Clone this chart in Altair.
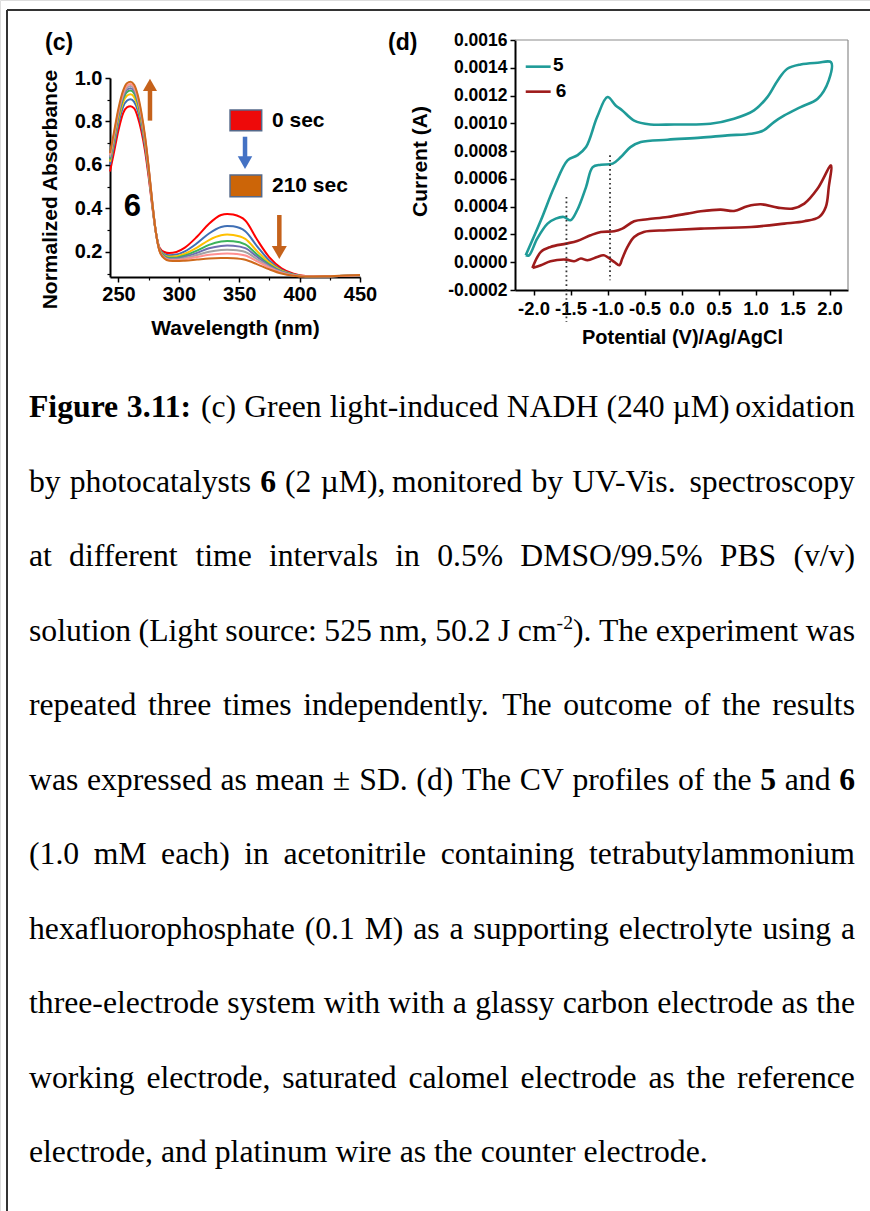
import re
import altair as alt
import pandas as pd

W, H = 870, 1211
SANS = "Liberation Sans"
SERIF = "Liberation Serif"

# ---------------- (c) UV-Vis spectra of NADH + photocatalyst 6 ----------------
wavelength = [243, 246, 250, 254, 257, 260, 263, 266, 269, 272, 275, 278, 281, 284,
              288, 292, 298, 305, 315, 325, 335, 340, 345, 355, 365, 375, 385, 395, 405, 420, 450]
spec_times = ["0", "30", "60", "90", "120", "150", "180", "210"]
abs_0 = [0.570, 0.650, 0.760, 0.840, 0.865, 0.870, 0.860, 0.820, 0.755, 0.665, 0.545, 0.410, 0.290, 0.220,
         0.200, 0.195, 0.200, 0.220, 0.270, 0.330, 0.370, 0.375, 0.372, 0.345, 0.255, 0.175, 0.125, 0.100, 0.090, 0.088, 0.093]
abs_30 = [0.600, 0.680, 0.790, 0.870, 0.895, 0.902, 0.890, 0.850, 0.780, 0.685, 0.560, 0.415, 0.290, 0.215,
          0.190, 0.185, 0.188, 0.203, 0.240, 0.285, 0.315, 0.320, 0.318, 0.295, 0.225, 0.160, 0.118, 0.097, 0.089, 0.088, 0.093]
abs_60 = [0.615, 0.700, 0.810, 0.890, 0.918, 0.925, 0.912, 0.870, 0.798, 0.700, 0.570, 0.420, 0.290, 0.212,
          0.185, 0.178, 0.180, 0.192, 0.220, 0.255, 0.277, 0.280, 0.278, 0.260, 0.203, 0.150, 0.114, 0.096, 0.089, 0.088, 0.093]
abs_90 = [0.625, 0.710, 0.825, 0.905, 0.935, 0.942, 0.929, 0.885, 0.810, 0.710, 0.577, 0.423, 0.290, 0.210,
          0.182, 0.173, 0.174, 0.184, 0.206, 0.233, 0.248, 0.250, 0.249, 0.235, 0.187, 0.142, 0.111, 0.095, 0.088, 0.088, 0.093]
abs_120 = [0.632, 0.718, 0.833, 0.915, 0.946, 0.953, 0.940, 0.895, 0.818, 0.716, 0.581, 0.425, 0.290, 0.208,
           0.178, 0.169, 0.170, 0.178, 0.196, 0.217, 0.228, 0.230, 0.229, 0.218, 0.177, 0.137, 0.109, 0.094, 0.088, 0.088, 0.093]
abs_150 = [0.638, 0.725, 0.841, 0.924, 0.955, 0.963, 0.950, 0.904, 0.826, 0.722, 0.585, 0.427, 0.290, 0.207,
           0.175, 0.166, 0.166, 0.172, 0.186, 0.201, 0.209, 0.210, 0.209, 0.200, 0.166, 0.132, 0.107, 0.093, 0.088, 0.088, 0.093]
abs_180 = [0.645, 0.732, 0.849, 0.933, 0.964, 0.972, 0.958, 0.912, 0.833, 0.727, 0.588, 0.428, 0.290, 0.205,
           0.172, 0.163, 0.162, 0.167, 0.177, 0.187, 0.192, 0.193, 0.192, 0.184, 0.157, 0.127, 0.104, 0.092, 0.088, 0.088, 0.093]
abs_210 = [0.655, 0.742, 0.860, 0.944, 0.976, 0.983, 0.969, 0.922, 0.842, 0.734, 0.592, 0.430, 0.290, 0.204,
           0.170, 0.160, 0.158, 0.160, 0.165, 0.170, 0.172, 0.172, 0.171, 0.164, 0.143, 0.120, 0.101, 0.091, 0.087, 0.088, 0.094]
spec_series = [abs_0, abs_30, abs_60, abs_90, abs_120, abs_150, abs_180, abs_210]
spec_colors = ["#ff0000", "#3f6fb5", "#ffc000", "#3cb35a", "#6e6eb0", "#a3a3a3", "#ff9090", "#cf6a1c"]

# ---------------- (d) cyclic voltammograms ----------------
cv5_potential = [-2.105, -1.90, -1.72, -1.54, -1.41, -1.29, -1.14, -1.00, -0.89, -0.80, -0.64, -0.42, -0.10,
                 0.39, 0.71, 0.98, 1.16, 1.30, 1.43, 1.61, 1.84, 2.02, 1.99, 1.84, 1.61, 1.39, 1.25, 1.11,
                 0.94, 0.62, 0.26, -0.19, -0.55, -0.69, -0.82, -0.93, -1.09, -1.20, -1.29, -1.41, -1.50,
                 -1.59, -1.70, -1.81, -1.95, -2.06, -2.105]
cv5_current = [0.00005, 0.000302, 0.000541, 0.000733, 0.000769, 0.000829, 0.001045, 0.001189, 0.001129,
               0.001093, 0.00102, 0.000992, 0.000992, 0.000997, 0.001033, 0.001093, 0.001189, 0.001309,
               0.001393, 0.001424, 0.001436, 0.00144, 0.001309, 0.001177, 0.001117, 0.001057, 0.001009,
               0.000949, 0.000925, 0.000913, 0.000897, 0.000882, 0.000865, 0.000829, 0.000757, 0.00071,
               0.000702, 0.000685, 0.000541, 0.000374, 0.000302, 0.000326, 0.000314, 0.000278, 0.00017,
               0.00005, 0.00005]
cv6_potential = [-2.015, -1.90, -1.77, -1.56, -1.41, -1.23, -1.09, -0.91, -0.80, -0.64, -0.46, -0.19, 0.08,
                 0.26, 0.53, 0.71, 0.89, 1.07, 1.30, 1.50, 1.66, 1.84, 2.02, 1.99, 1.95, 1.86, 1.66, 1.39,
                 0.94, 0.26, -0.19, -0.51, -0.64, -0.73, -0.80, -0.84, -0.91, -1.05, -1.14, -1.27, -1.36,
                 -1.45, -1.56, -1.77, -1.90, -2.015]
cv6_current = [-0.000041, 0.000074, 0.00011, 0.000134, 0.000153, 0.000194, 0.000218, 0.000223, 0.000242,
               0.000295, 0.000309, 0.000326, 0.00035, 0.000367, 0.000379, 0.000369, 0.000403, 0.000417,
               0.000393, 0.000386, 0.000422, 0.00053, 0.000697, 0.000541, 0.000398, 0.000326, 0.000295,
               0.000278, 0.000254, 0.000242, 0.00023, 0.000218, 0.000182, 0.00011, 0.000027, -0.000022,
               0.000002, 0.00005, 0.000038, 0.000014, 0.000027, 0.000007, 0.000019, 0.000007, -0.000022,
               -0.000041]
cv_labels = ["5", "6"]
cv_colors = ["#1f9b98", "#9e1b1b"]
marker_potentials = [-1.555, -0.966]
marker_top = [0.00047, 0.00077]
marker_bottom = [-0.00043, -0.00013]

# ---------------- caption ----------------
caption_lines = [
    "**Figure** **3.11:** (c) Green light-induced NADH (240 µM) oxidation",
    "by photocatalysts **6** (2 µM), monitored by UV-Vis. spectroscopy",
    "at different time intervals in 0.5% DMSO/99.5% PBS (v/v)",
    "solution (Light source: 525 nm, 50.2 J cm^-2^). The experiment was",
    "repeated three times independently. The outcome of the results",
    "was expressed as mean ± SD. (d) The CV profiles of the **5** and **6**",
    "(1.0 mM each) in acetonitrile containing tetrabutylammonium",
    "hexafluorophosphate (0.1 M) as a supporting electrolyte using a",
    "three-electrode system with with a glassy carbon electrode as the",
    "working electrode, saturated calomel electrode as the reference",
    "electrode, and platinum wire as the counter electrode.",
]

# Times-compatible advance widths (1/1000 em) used to justify caption lines
TIMES_REG = {" ": 250, "!": 333, "%": 833, "(": 333, ")": 333, ",": 250, "-": 333, ".": 250, "/": 278,
             ":": 278, ";": 278, "±": 564, "µ": 500,
             "A": 722, "B": 667, "C": 667, "D": 722, "E": 611, "F": 556, "G": 722, "H": 722, "I": 333,
             "J": 389, "K": 722, "L": 611, "M": 889, "N": 722, "O": 722, "P": 556, "Q": 722, "R": 667,
             "S": 556, "T": 611, "U": 722, "V": 722, "W": 944, "X": 722, "Y": 722, "Z": 611,
             "a": 444, "b": 500, "c": 444, "d": 500, "e": 444, "f": 333, "g": 500, "h": 500, "i": 278,
             "j": 278, "k": 500, "l": 278, "m": 778, "n": 500, "o": 500, "p": 500, "q": 500, "r": 333,
             "s": 389, "t": 278, "u": 500, "v": 500, "w": 722, "x": 500, "y": 500, "z": 444}
for d in "0123456789":
    TIMES_REG[d] = 500
TIMES_BOLD = {"F": 611, "i": 278, "g": 500, "u": 556, "r": 444, "e": 444, ".": 250, ":": 333, " ": 250}
for d in "0123456789":
    TIMES_BOLD[d] = 500

FS = 31.7          # caption font size
SUP = 0.62         # superscript scale
LEFT, RIGHT = 29, 855
BASE0, LEAD = 417, 74.5


def seg_width(text, style):
    if style == "bold":
        return sum(TIMES_BOLD.get(ch, TIMES_REG.get(ch, 500)) for ch in text) / 1000 * FS
    size = FS * SUP if style == "sup" else FS
    return sum(TIMES_REG.get(ch, 500) for ch in text) / 1000 * size


def parse_word(word):
    segs = []
    for tok in re.split(r"(\*\*[^*]+\*\*|\^[^^]+\^)", word):
        if not tok:
            continue
        if tok.startswith("**"):
            segs.append((tok[2:-2], "bold"))
        elif tok.startswith("^"):
            segs.append((tok[1:-1], "sup"))
        else:
            segs.append((tok, "reg"))
    return segs


caption_rows = []
for k, line in enumerate(caption_lines):
    words = [parse_word(w) for w in line.split(" ")]
    widths = [sum(seg_width(t, s) for t, s in w) for w in words]
    if k == len(caption_lines) - 1:
        gap = 0.25 * FS
    else:
        gap = (RIGHT - LEFT - sum(widths)) / (len(words) - 1)
    x = LEFT
    base = BASE0 + k * LEAD
    for w, wd in zip(words, widths):
        xx = x
        for t, s in w:
            caption_rows.append({"x": xx, "y": base - (0.36 * FS if s == "sup" else 0), "t": t, "s": s})
            xx += seg_width(t, s)
        x += wd + gap
caption_df = pd.DataFrame(caption_rows)

# ---------------- tables ----------------
spec_keys = [f"{int(t):03d}" for t in spec_times]
spec_df = pd.DataFrame([
    {"wl": wl, "a": a, "key": key}
    for key, series in zip(spec_keys, spec_series)
    for wl, a in zip(wavelength, series)
])
cv_df = pd.DataFrame(
    [{"v": v, "i": c, "n": n, "s": "5"} for n, (v, c) in enumerate(zip(cv5_potential, cv5_current))]
    + [{"v": v, "i": c, "n": n, "s": "6"} for n, (v, c) in enumerate(zip(cv6_potential, cv6_current))]
)
marker_df = pd.DataFrame({"v": marker_potentials, "top": marker_top, "bottom": marker_bottom})

# ---------------- scales ----------------
def lin(domain, rng):
    return alt.Scale(domain=domain, range=rng, nice=False, zero=False)

C_X = [243, 450], [110, 360]
C_Y = [0.085, 1.0], [277, 78]
D_X = [-2.25, 2.25], [515, 848]
D_Y = [-0.0002, 0.0016], [290, 40]
P_X = [0, W], [0, W]
P_Y = [0, H], [0, H]


def axis(**kw):
    base = dict(grid=False, domainColor="black", domainWidth=2, tickColor="black", tickWidth=1.5,
                tickSize=5, labelFont=SANS, labelFontWeight="bold", labelColor="black",
                labelFlush=False, labelOverlap=False, labelBound=False, titleFont=SANS,
                titleFontWeight="bold", titleColor="black", titleAlign="center",
                titleBaseline="middle")
    base.update(kw)
    return alt.Axis(**base)


def minor_axis(**kw):
    base = dict(grid=False, labels=False, domain=False, tickColor="black", tickWidth=1.2,
                tickSize=3, title="")
    base.update(kw)
    return alt.Axis(**base)


def xq(field, sc, ax=None):
    if ax is None:
        return alt.X(field, type="quantitative", scale=lin(*sc), axis=None)
    return alt.X(field, type="quantitative", scale=lin(*sc), axis=ax)


def yq(field, sc, ax=None):
    if ax is None:
        return alt.Y(field, type="quantitative", scale=lin(*sc), axis=None)
    return alt.Y(field, type="quantitative", scale=lin(*sc), axis=ax)


layers = []

# page frame and panel letters
frame_df = pd.DataFrame({"x": [7, 7], "x2": [W, 7], "y": [10, 10], "y2": [10, H]})
layers.append(alt.Chart(frame_df).mark_rule(color="#333333", strokeWidth=2).encode(
    x=xq("x", P_X), x2="x2:Q", y=yq("y", P_Y), y2="y2:Q"))
letters_df = pd.DataFrame({"x": [45, 388], "y": [43, 43], "t": ["(c)", "(d)"]})
layers.append(alt.Chart(letters_df).mark_text(font=SANS, fontWeight="bold", fontSize=23, align="left",
                                               baseline="middle", color="black").encode(
    x=xq("x", P_X), y=yq("y", P_Y), text="t:N"))

# caption text
for style, extra in [("reg", {}), ("bold", {"fontWeight": "bold"}), ("sup", {"fontSize": FS * SUP})]:
    props = dict(font=SERIF, fontSize=FS, align="left", baseline="alphabetic", color="black")
    props.update(extra)
    layers.append(alt.Chart(caption_df).transform_filter(alt.datum.s == style).mark_text(**props).encode(
        x=xq("x", P_X), y=yq("y", P_Y), text="t:N"))

# ---- panel (c) ----
layers.append(alt.Chart(spec_df).mark_line(strokeWidth=2, interpolate="monotone").encode(
    x=xq("wl", C_X, axis(orient="bottom", offset=277 - H, values=[250, 300, 350, 400, 450], format="d",
                         labelFontSize=20, labelPadding=2, title="Wavelength (nm)", titleFontSize=21,
                         titleX=235, titleY=51)),
    y=yq("a", C_Y, axis(orient="left", offset=-110, values=[0.2, 0.4, 0.6, 0.8, 1.0], format=".1f",
                        labelFontSize=20, labelPadding=3, title="Normalized Absorbance",
                        titleFontSize=21, titleAngle=270, titleX=-60, titleY=189)),
    color=alt.Color("key:N", scale=alt.Scale(domain=spec_keys, range=spec_colors), legend=None),
))

legend_box_df = pd.DataFrame({"x": [342.4, 342.4], "x2": [368.6, 368.6], "y": [0.853, 0.554],
                              "y2": [0.758, 0.454], "fill": ["#ee0a0a", "#cc6508"]})
layers.append(alt.Chart(legend_box_df).mark_rect(stroke="#55698a", strokeWidth=1.5).encode(
    x=xq("x", C_X, minor_axis(orient="bottom", offset=277 - H, values=[275, 325, 375, 425])),
    x2="x2:Q",
    y=yq("y", C_Y, minor_axis(orient="left", offset=-110, values=[0.1, 0.3, 0.5, 0.7, 0.9])),
    y2="y2:Q",
    color=alt.Color("fill:N", scale=None),
))

arrow_shaft_df = pd.DataFrame({"x": [276.1, 383.2, 354.8], "y": [0.804, 0.370, 0.730],
                               "y2": [0.950, 0.215, 0.637], "col": ["#c5621b", "#c5621b", "#4472c4"]})
layers.append(alt.Chart(arrow_shaft_df).mark_rule(strokeWidth=4.5).encode(
    x=xq("x", C_X), y=yq("y", C_Y), y2="y2:Q", color=alt.Color("col:N", scale=None)))
arrow_head_df = pd.DataFrame({"x": [276.1, 383.2, 354.8], "y": [0.968, 0.198, 0.611],
                              "shape": ["triangle-up", "triangle-down", "triangle-down"],
                              "col": ["#c5621b", "#c5621b", "#4472c4"], "sz": [200, 225, 210]})
layers.append(alt.Chart(arrow_head_df).mark_point(filled=True, opacity=1, strokeWidth=0).encode(
    x=xq("x", C_X), y=yq("y", C_Y), shape=alt.Shape("shape:N", scale=None),
    color=alt.Color("col:N", scale=None), size=alt.Size("sz:Q", scale=None)))

c_text_df = pd.DataFrame({"x": [377.1, 377.1, 254.3], "y": [0.802, 0.503, 0.405],
                          "t": ["0 sec", "210 sec", "6"], "fs": [21, 21, 31]})
layers.append(alt.Chart(c_text_df).mark_text(font=SANS, fontWeight="bold", align="left",
                                             baseline="middle", color="black").encode(
    x=xq("x", C_X), y=yq("y", C_Y), text="t:N", size=alt.Size("fs:Q", scale=None)))

# ---- panel (d) ----
d_yticks = [-0.0002, 0.0, 0.0002, 0.0004, 0.0006, 0.0008, 0.0010, 0.0012, 0.0014, 0.0016]
d_xticks = [-2.0, -1.5, -1.0, -0.5, 0.0, 0.5, 1.0, 1.5, 2.0]
layers.append(alt.Chart(cv_df).mark_line(strokeWidth=2.6, interpolate="catmull-rom",
                                         strokeJoin="round").encode(
    x=xq("v", D_X, axis(orient="bottom", offset=290 - H, values=d_xticks,
                        labelExpr="replace(format(datum.value, '.1f'), '\u2212', '-')",
                        labelFontSize=18.5, labelPadding=4, title="Potential (V)/Ag/AgCl",
                        titleFontSize=20, titleX=682, titleY=47)),
    y=yq("i", D_Y, axis(orient="left", offset=-515, values=d_yticks,
                        labelExpr="replace(format(datum.value, '.4f'), '\u2212', '-')",
                        labelFontSize=17.5, labelPadding=3, title="Current (A)", titleFontSize=21,
                        titleAngle=270, titleX=-95, titleY=161)),
    color=alt.Color("s:N", scale=alt.Scale(domain=cv_labels, range=cv_colors), legend=None),
    order=alt.Order("n:Q"),
    detail="s:N",
))

d_frame_df = pd.DataFrame({"x": [-2.25, 2.25], "x2": [2.25, 2.25], "y": [0.0016, -0.0002], "y2": [0.0016, 0.0016]})
layers.append(alt.Chart(d_frame_df).mark_rule(color="#8c8c8c", strokeWidth=1.2).encode(
    x=xq("x", D_X), x2="x2:Q", y=yq("y", D_Y), y2="y2:Q"))

layers.append(alt.Chart(marker_df).mark_rule(color="#333333", strokeWidth=1.8, strokeDash=[1.6, 3]).encode(
    x=xq("v", D_X), y=yq("top", D_Y), y2="bottom:Q"))

d_key_df = pd.DataFrame({"x": [-2.105, -2.105], "x2": [-1.768, -1.768], "y": [0.001408, 0.001228],
                         "s": cv_labels})
layers.append(alt.Chart(d_key_df).mark_rule(strokeWidth=2.6).encode(
    x=xq("x", D_X), x2="x2:Q", y=yq("y", D_Y),
    color=alt.Color("s:N", scale=alt.Scale(domain=cv_labels, range=cv_colors), legend=None)))
d_key_text_df = pd.DataFrame({"x": [-1.735, -1.70], "y": [0.00142, 0.001233], "t": cv_labels})
layers.append(alt.Chart(d_key_text_df).mark_text(font=SANS, fontWeight="bold", fontSize=19, align="left",
                                                 baseline="middle", color="black").encode(
    x=xq("x", D_X), y=yq("y", D_Y), text="t:N"))

chart = alt.layer(*layers).resolve_scale(
    x="independent", y="independent", color="independent", shape="independent", size="independent"
).properties(
    width=W, height=H, padding=0, autosize=alt.AutoSizeParams(type="none")
).configure_view(stroke="transparent").configure(background="white")

chart.save("out.html", embed_options={"renderer": "svg", "actions": False})
